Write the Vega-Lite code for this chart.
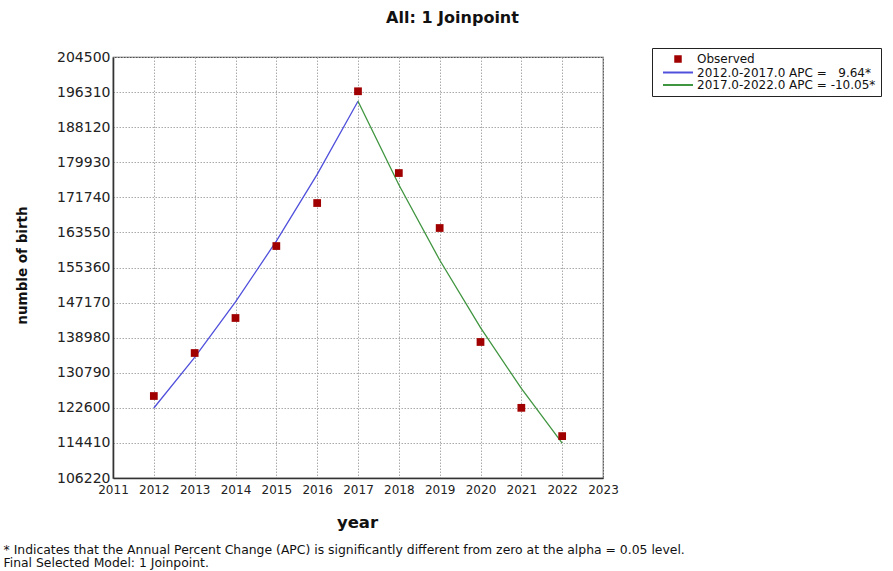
{
  "$schema": "https://vega.github.io/schema/vega-lite/v6.json",
  "width": 490,
  "height": 421,
  "autosize": {"type": "none"},
  "padding": {"left": 113, "top": 57, "right": 290, "bottom": 93},
  "background": "white",
  "config": {
    "view": {"stroke": "#505050", "strokeWidth": 1.2},
    "axis": {"gridColor": "#aaaaaa", "gridDash": [1.5, 1.5], "gridWidth": 1, "ticks": false}
  },
  "data": {
    "values": [
      {"year": 2012, "series": "Observed", "value": 125360},
      {"year": 2013, "series": "Observed", "value": 135400},
      {"year": 2014, "series": "Observed", "value": 143570},
      {"year": 2015, "series": "Observed", "value": 160370},
      {"year": 2016, "series": "Observed", "value": 170410},
      {"year": 2017, "series": "Observed", "value": 196500},
      {"year": 2018, "series": "Observed", "value": 177410},
      {"year": 2019, "series": "Observed", "value": 164580},
      {"year": 2020, "series": "Observed", "value": 137970},
      {"year": 2021, "series": "Observed", "value": 122600},
      {"year": 2022, "series": "Observed", "value": 116000},
      {"year": 2012, "series": "2012.0-2017.0 APC =\u00a0\u00a0 9.64*", "value": 122560},
      {"year": 2013, "series": "2012.0-2017.0 APC =\u00a0\u00a0 9.64*", "value": 134375},
      {"year": 2014, "series": "2012.0-2017.0 APC =\u00a0\u00a0 9.64*", "value": 147329},
      {"year": 2015, "series": "2012.0-2017.0 APC =\u00a0\u00a0 9.64*", "value": 161532},
      {"year": 2016, "series": "2012.0-2017.0 APC =\u00a0\u00a0 9.64*", "value": 177104},
      {"year": 2017, "series": "2012.0-2017.0 APC =\u00a0\u00a0 9.64*", "value": 194177},
      {"year": 2017, "series": "2017.0-2022.0 APC = -10.05*", "value": 194177},
      {"year": 2018, "series": "2017.0-2022.0 APC = -10.05*", "value": 174662},
      {"year": 2019, "series": "2017.0-2022.0 APC = -10.05*", "value": 157109},
      {"year": 2020, "series": "2017.0-2022.0 APC = -10.05*", "value": 141319},
      {"year": 2021, "series": "2017.0-2022.0 APC = -10.05*", "value": 127117},
      {"year": 2022, "series": "2017.0-2022.0 APC = -10.05*", "value": 114342}
    ]
  },
  "encoding": {
    "y": {
      "field": "value", "type": "quantitative",
      "scale": {"domain": [106220, 204500], "nice": false, "zero": false},
      "axis": {
        "values": [106220, 114410, 122600, 130790, 138980, 147170, 155360, 163550, 171740, 179930, 188120, 196310, 204500],
        "format": "d", "grid": true, "ticks": false, "labelPadding": 3, "labelOverlap": false, "labelFlush": false,
        "labelFont": "DejaVu Sans", "labelFontSize": 14, "labelColor": "#222222",
        "domainColor": "#333333", "domainWidth": 1.6,
        "title": "numble of birth", "titleX": -91, "titleY": 208, "titleAlign": "center", "titleBaseline": "middle", "titleAngle": -90,
        "titleFont": "DejaVu Sans", "titleFontSize": 13.5, "titleFontWeight": "bold", "titleColor": "#111111"
      }
    },
    "color": {
      "field": "series", "type": "nominal",
      "scale": {
        "domain": ["Observed", "2012.0-2017.0 APC =\u00a0\u00a0 9.64*", "2017.0-2022.0 APC = -10.05*"],
        "range": ["#a00000", "#5050dc", "#409540"]
      },
      "legend": {
        "orient": "none", "legendX": 539, "legendY": -9, "title": null,
        "strokeColor": "#222222", "fillColor": "white", "padding": 5,
        "labelFont": "DejaVu Sans", "labelFontSize": 12, "labelColor": "#111111", "labelLimit": 400,
        "rowPadding": 0.5, "symbolSize": 30, "symbolOffset": 15, "labelOffset": 13,
        "encode": {
          "symbols": {
            "update": {
              "shape": {"signal": "datum.value === 'Observed' ? 'square' : 'M-3,0H3'"},
              "size": {"signal": "datum.value === 'Observed' ? 30 : 100"},
              "fill": {"signal": "datum.value === 'Observed' ? '#a00000' : 'transparent'"},
              "stroke": {"signal": "datum.value === 'Observed' ? 'transparent' : (indexof(datum.value, '2012') === 0 ? '#1c1ca8' : '#1e6b1e')"},
              "strokeWidth": {"value": 2},
              "opacity": {"value": 1}
            }
          }
        }
      }
    }
  },
  "resolve": {"axis": {"x": "independent"}},
  "layer": [
    {
      "transform": [{"filter": "datum.series === '2012.0-2017.0 APC =\u00a0\u00a0 9.64*'"}],
      "mark": {"type": "line", "strokeWidth": 1.3, "color": "#5050dc"},
      "encoding": {
        "x": {
          "field": "year", "type": "quantitative",
          "scale": {"domain": [2011, 2023], "nice": false, "zero": false},
          "axis": {
            "orient": "top", "labels": false, "domain": false, "grid": false, "ticks": false,
            "title": "All: 1 Joinpoint", "titleX": 339, "titleY": -40,
            "titleAlign": "center", "titleBaseline": "middle", "titleAngle": 0,
            "titleFont": "DejaVu Sans", "titleFontSize": 16, "titleFontWeight": "bold", "titleColor": "#111111"
          }
        }
      }
    },
    {
      "transform": [{"filter": "datum.series === '2017.0-2022.0 APC = -10.05*'"}],
      "mark": {"type": "line", "strokeWidth": 1.3, "color": "#409540"},
      "encoding": {
        "x": {
          "field": "year", "type": "quantitative",
          "scale": {"domain": [2011, 2023], "nice": false, "zero": false},
          "axis": {
            "orient": "bottom", "labels": false, "domain": false, "grid": false, "ticks": false,
            "title": ["* Indicates that the Annual Percent Change (APC) is significantly different from zero at the alpha = 0.05 level.", "Final Selected Model: 1 Joinpoint."],
            "titleX": -110, "titleY": 71, "titleAlign": "left", "titleBaseline": "middle", "titleLineHeight": 13.5, "titleLimit": 1000,
            "titleFont": "DejaVu Sans", "titleFontSize": 12.4, "titleFontWeight": "normal", "titleColor": "#111111"
          }
        }
      }
    },
    {
      "transform": [{"filter": "datum.series === 'Observed'"}],
      "mark": {"type": "point", "shape": "square", "filled": true, "size": 60, "opacity": 1, "color": "#a00000"},
      "encoding": {
        "x": {
          "field": "year", "type": "quantitative",
          "scale": {"domain": [2011, 2023], "nice": false, "zero": false},
          "axis": {
            "orient": "bottom", "values": [2011, 2012, 2013, 2014, 2015, 2016, 2017, 2018, 2019, 2020, 2021, 2022, 2023],
            "format": "d", "grid": true, "ticks": false, "labelPadding": 6, "labelOverlap": false, "labelFlush": false,
            "labelFont": "DejaVu Sans", "labelFontSize": 12, "labelColor": "#222222",
            "domainColor": "#333333", "domainWidth": 1.6,
            "title": "year", "titleX": 244, "titleY": 44, "titleAlign": "center", "titleBaseline": "middle",
            "titleFont": "DejaVu Sans", "titleFontSize": 16.5, "titleFontWeight": "bold", "titleColor": "#111111"
          }
        }
      }
    }
  ]
}
